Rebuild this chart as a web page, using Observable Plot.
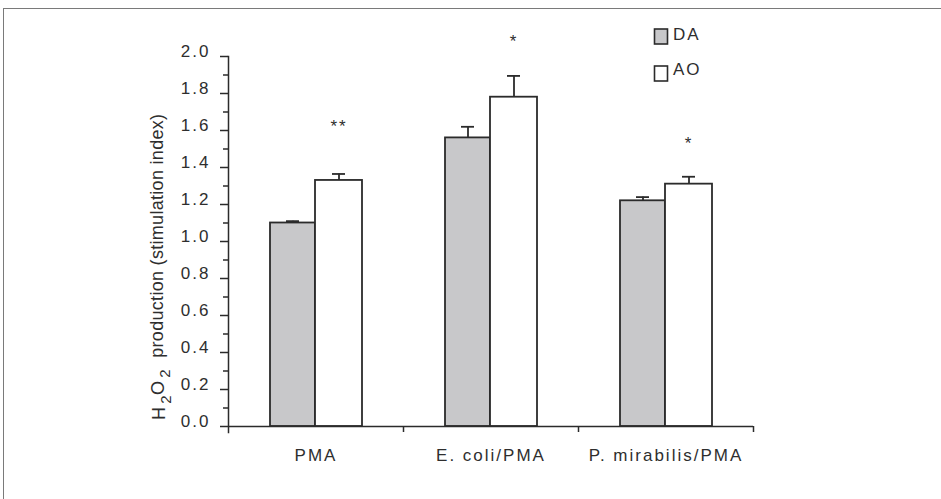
<!DOCTYPE html>
<html><head><meta charset="utf-8">
<script src="https://cdn.jsdelivr.net/npm/d3@7"></script>
<script src="https://cdn.jsdelivr.net/npm/@observablehq/plot@0.6"></script>
<style>
html,body{margin:0;padding:0;background:#fff;overflow:hidden;width:941px;height:499px}
#frame{position:absolute;left:3px;top:8px;width:1200px;height:800px;border-left:1.5px solid #7a7a7a;border-top:1.5px solid #7a7a7a}
#chart{position:absolute;left:0;top:0}
</style></head>
<body><div id="frame"></div><div id="chart"></div>
<script>
const categories = ["PMA", "E. coli/PMA", "P. mirabilis/PMA"];
const series = ["DA", "AO"];
const daValues = [1.10, 1.56, 1.22];
const daErrors = [0.01, 0.06, 0.02];
const aoValues = [1.33, 1.78, 1.31];
const aoErrors = [0.035, 0.115, 0.04];
const sigLabels = ["**", "*", "*"];
const sigY = [1.62, 2.08, 1.53];
const yTicks = [0, 0.2, 0.4, 0.6, 0.8, 1.0, 1.2, 1.4, 1.6, 1.8, 2.0];
const yMinorTicks = [0.1, 0.3, 0.5, 0.7, 0.9, 1.1, 1.3, 1.5, 1.7, 1.9];
const yLabel = ["H", "2", "O", "2", " production (stimulation index)"];

const da = categories.map((c, i) => ({cat: c, v: daValues[i], e: daErrors[i]}));
const ao = categories.map((c, i) => ({cat: c, v: aoValues[i], e: aoErrors[i]}));
const sig = categories.map((c, i) => ({cat: c, y: sigY[i], label: sigLabels[i]}));

const ink = "#2b2b2b";
const daFill = "#c8c8ca";

const plot = Plot.plot({
  width: 941, height: 499,
  marginLeft: 228, marginRight: 188, marginTop: 56, marginBottom: 73,
  style: {fontFamily: "'Liberation Sans', Arial, sans-serif", fontSize: "17px", color: "#2e2e2e", letterSpacing: "2px", background: "transparent"},
  x: {domain: categories, padding: 0, axis: null},
  y: {domain: [0, 2], axis: null},
  marks: [
    Plot.barY(da, {x: "cat", y: "v", fill: daFill, stroke: ink, strokeWidth: 1.8, insetLeft: 42, insetRight: 88}),
    Plot.barY(ao, {x: "cat", y: "v", fill: "white", stroke: ink, strokeWidth: 1.8, insetLeft: 87, insetRight: 41}),
    Plot.ruleX(da, {x: "cat", y1: "v", y2: d => d.v + d.e, dx: -23, stroke: ink, strokeWidth: 1.8}),
    Plot.tickY(da, {x: "cat", y: d => d.v + d.e, insetLeft: 58, insetRight: 104, stroke: ink, strokeWidth: 1.8}),
    Plot.ruleX(ao, {x: "cat", y1: "v", y2: d => d.v + d.e, dx: 23, stroke: ink, strokeWidth: 1.8}),
    Plot.tickY(ao, {x: "cat", y: d => d.v + d.e, insetLeft: 104, insetRight: 58, stroke: ink, strokeWidth: 1.8}),
    Plot.ruleY([0], {stroke: ink, strokeWidth: 1.5}),
    Plot.frame({anchor: "left", stroke: ink, strokeWidth: 1.5, insetBottom: -6}),
    Plot.axisY({ticks: yTicks, tickSize: 8, text: null, stroke: ink, strokeWidth: 1.5}),
    Plot.axisY({ticks: yMinorTicks, tickSize: 5, text: null, stroke: ink, strokeWidth: 1.5}),
    Plot.axisY({ticks: yTicks, tickSize: 0, tickPadding: 18, dy: -5, tickFormat: d3.format(".1f"), label: null, fill: "#2e2e2e"}),
    Plot.axisX({tickSize: 6, text: null, dx: 87.5, stroke: ink, strokeWidth: 1.5, label: null}),
    Plot.axisX({tickSize: 0, tickPadding: 22, label: null, fill: "#2e2e2e"}),
    Plot.text(sig, {x: "cat", y: "y", text: "label", dx: 23, lineAnchor: "middle", fill: "#2e2e2e"})
  ]
});
document.getElementById("chart").appendChild(plot);

const svg = d3.select(plot);
// legend
const leg = svg.append("g").attr("class", "legend").attr("text-anchor", "start");
[[series[0], daFill, 29, 40], [series[1], "white", 66, 75]].forEach(([name, fill, top, base]) => {
  leg.append("rect").attr("x", 654.5).attr("y", top).attr("width", 13).attr("height", 15)
    .attr("fill", fill).attr("stroke", ink).attr("stroke-width", 1.6);
  leg.append("text").attr("x", 673).attr("y", base).attr("fill", "#2e2e2e").text(name);
});
// y-axis title with subscripts
const t = svg.append("text")
  .attr("transform", "translate(165,420) rotate(-90)")
  .attr("text-anchor", "start")
  .attr("fill", "#2e2e2e").style("letter-spacing", "0.3px").style("font-size", "18px");
t.append("tspan").text(yLabel[0]);
t.append("tspan").attr("dy", "0.4em").attr("dx", "3").style("font-size", "15px").text(yLabel[1]);
t.append("tspan").attr("dy", "-0.4em").text(yLabel[2]);
t.append("tspan").attr("dy", "0.4em").attr("dx", "3").style("font-size", "15px").text(yLabel[3]);
t.append("tspan").attr("dy", "-0.4em").attr("dx", "6").text(yLabel[4]);
</script>
</body></html>
